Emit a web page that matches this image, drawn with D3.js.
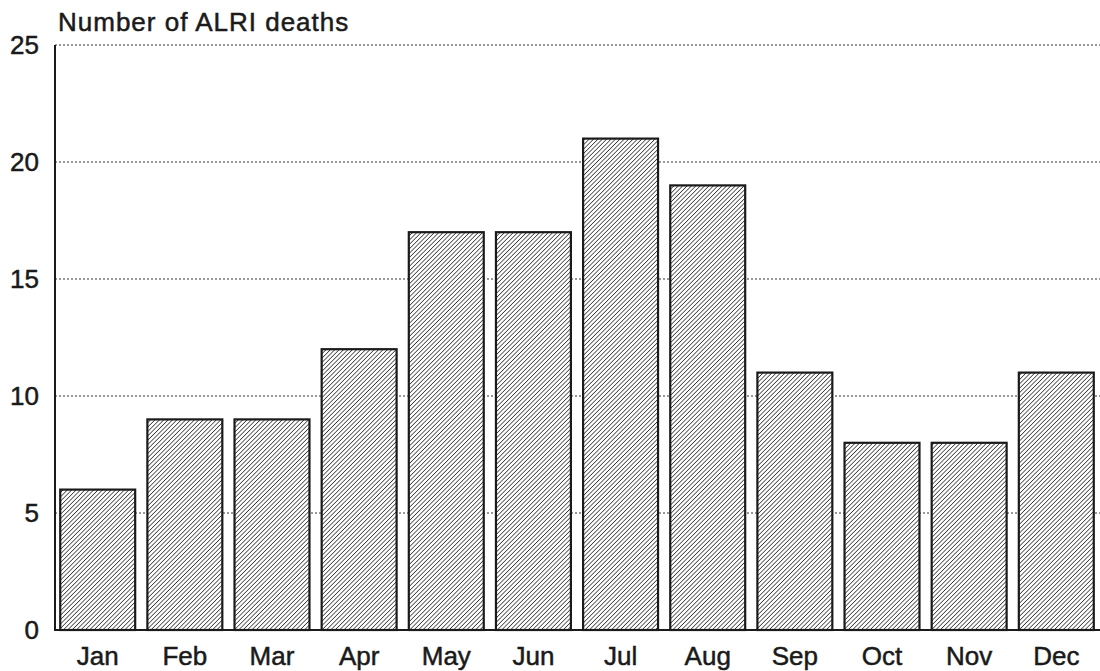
<!DOCTYPE html>
<html>
<head>
<meta charset="utf-8">
<script src="https://cdn.jsdelivr.net/npm/d3@7"></script>
<style>
  body { margin: 0; background: #fff; }
  svg { font-family: "Liberation Sans", Arial, sans-serif; }
  text { stroke: #1a1a1a; stroke-width: 0.5px; }
</style>
</head>
<body>
<svg width="1100" height="671"></svg>
<script>
const months = ["Jan", "Feb", "Mar", "Apr", "May", "Jun", "Jul", "Aug", "Sep", "Oct", "Nov", "Dec"];
const deaths = [6, 9, 9, 12, 17, 17, 21, 19, 11, 8, 8, 11];
const yTicks = [0, 5, 10, 15, 20, 25];

const svg = d3.select("svg");
const plotLeft = 55, plotRight = 1099, plotTop = 45, plotBottom = 630;

const x = d3.scaleBand()
  .domain(months)
  .range([plotLeft, plotRight])
  .paddingInner(0.14)
  .paddingOuter(0.06);

const y = d3.scaleLinear().domain([0, 25]).range([plotBottom, plotTop]);

// hatch pattern, lines going up to the right
const hs = 3.1;
const pat = svg.append("defs").append("pattern")
  .attr("id", "hatch")
  .attr("patternUnits", "userSpaceOnUse")
  .attr("width", hs)
  .attr("height", hs)
  .attr("patternTransform", "rotate(45)");
pat.append("rect").attr("width", hs).attr("height", hs).attr("fill", "#fff");
pat.append("line")
  .attr("x1", 0).attr("y1", 0).attr("x2", 0).attr("y2", hs)
  .attr("stroke", "#222").attr("stroke-width", 1.4);

// gridlines
svg.append("g")
  .selectAll("line")
  .data(yTicks.filter(d => d > 0))
  .enter().append("line")
  .attr("x1", plotLeft).attr("x2", 1100)
  .attr("y1", d => y(d)).attr("y2", d => y(d))
  .attr("stroke", "#333")
  .attr("stroke-width", 1)
  .attr("stroke-dasharray", "2,2");

// bars
svg.append("g")
  .selectAll("rect")
  .data(deaths)
  .enter().append("rect")
  .attr("x", (d, i) => x(months[i]))
  .attr("y", d => y(d))
  .attr("width", x.bandwidth())
  .attr("height", d => y(0) - y(d))
  .attr("fill", "url(#hatch)")
  .attr("stroke", "#1a1a1a")
  .attr("stroke-width", 2.2);

// axes
svg.append("line")
  .attr("x1", plotLeft).attr("x2", plotLeft)
  .attr("y1", plotTop).attr("y2", plotBottom)
  .attr("stroke", "#1a1a1a").attr("stroke-width", 2);
svg.append("line")
  .attr("x1", plotLeft - 1).attr("x2", 1100)
  .attr("y1", plotBottom).attr("y2", plotBottom)
  .attr("stroke", "#1a1a1a").attr("stroke-width", 2);

// y tick labels
svg.append("g")
  .selectAll("text")
  .data(yTicks)
  .enter().append("text")
  .attr("x", 39)
  .attr("y", d => y(d))
  .attr("dy", "0.36em")
  .attr("text-anchor", "end")
  .attr("font-size", 26)
  .attr("fill", "#1a1a1a")
  .text(d => d);

// x labels
svg.append("g")
  .selectAll("text")
  .data(months)
  .enter().append("text")
  .attr("x", d => x(d) + x.bandwidth() / 2)
  .attr("y", 665)
  .attr("text-anchor", "middle")
  .attr("font-size", 26)
  .attr("fill", "#1a1a1a")
  .text(d => d);

svg.append("text")
  .attr("x", 58)
  .attr("y", 31)
  .attr("font-size", 26)
  .attr("letter-spacing", 1)
  .attr("fill", "#1a1a1a")
  .text("Number of ALRI deaths");
</script>
</body>
</html>
